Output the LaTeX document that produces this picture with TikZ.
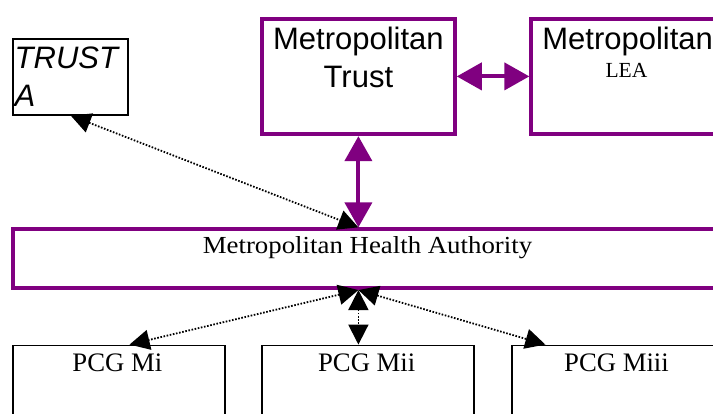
\documentclass[tikz,border=0pt]{standalone}
\usepackage{fontspec}
\setmainfont{Liberation Serif}
\setsansfont{Liberation Sans}
\usetikzlibrary{arrows.meta,calc}
\definecolor{mpurple}{RGB}{128,0,128}
\begin{document}
\begin{tikzpicture}[x=1pt,y=-1pt,
  pbox/.style={draw=mpurple, line width=4pt, rectangle, inner sep=0pt},
  bbox/.style={draw=black, line width=1.9pt, rectangle, inner sep=0pt},
  sanstext/.style={font=\sffamily\fontsize{31}{37}\selectfont, inner sep=0pt, anchor=base},
  itext/.style={font=\sffamily\itshape\fontsize{31}{37}\selectfont, inner sep=0pt, anchor=base west},
  serifsmall/.style={font=\rmfamily\fontsize{21.5}{25}\selectfont, inner sep=0pt, anchor=base},
  pcgtext/.style={font=\rmfamily\fontsize{26.7}{30}\selectfont, inner sep=0pt, anchor=base},
  parrow/.style={draw=mpurple, line width=4pt, {Triangle[length=25pt,width=27pt]}-{Triangle[length=25pt,width=27pt]}},
  darrow/.style={draw=black, line width=1.8pt, dash pattern=on 1.6pt off 1.6pt, {Triangle[length=20pt,width=20pt]}-{Triangle[length=20pt,width=20pt]}}
]
\useasboundingbox (0,0) rectangle (713,414);
\clip (0,0) rectangle (713,414);
\fill[white] (0,0) rectangle (713,414);

% boxes
\node[pbox, minimum width=192.7pt, minimum height=115.5pt] (trust) at (358.4,76.4) {};
\node[pbox, minimum width=192.7pt, minimum height=115.5pt] (lea) at (627.7,76.4) {};
\node[pbox, minimum width=711pt, minimum height=58.7pt] (mha) at (368.5,258.7) {};
\node[bbox, minimum width=115pt, minimum height=76pt] (trusta) at (70.8,76.7) {};
\node[bbox, minimum width=211.5pt, minimum height=134.5pt] (pcg1) at (118.9,412.75) {};
\node[bbox, minimum width=211.5pt, minimum height=134.5pt] (pcg2) at (368,412.75) {};
\node[bbox, minimum width=211.5pt, minimum height=134.5pt] (pcg3) at (617.9,412.75) {};

% texts
\node[sanstext] (tm1) at (358.4,50) {Metropolitan};
\node[sanstext] (tm2) at (358.4,87.3) {Trust};
\node[sanstext] (lm1) at (627.7,50) {Metropolitan};
\node[serifsmall] (lm2) at (626.5,77.3) {LEA};
\node[itext] (ta1) at (14.5,69) {TRUST};
\node[itext] (ta2) at (14.5,106.3) {A};
\node[font=\rmfamily\fontsize{24.5}{28}\selectfont, inner sep=0pt, anchor=base, xscale=1.095] (mhat) at (367.5,253.7) {Metropolitan Health Authority};
\node[pcgtext] (p1) at (117.3,371.7) {PCG Mi};
\node[pcgtext] (p2) at (366.7,371.7) {PCG Mii};
\node[pcgtext] (p3) at (616.5,371.7) {PCG Miii};

% connectors
\draw[parrow] (trust.east) -- (lea.west);
\draw[parrow] (trust.south) -- (mha.north -| trust.south);
\draw[darrow] (trusta.south) -- (mha.north -| trust.south);
\draw[darrow] (mha.south -| trust.south) -- ($(pcg1.north west)!0.55!(pcg1.north east)$);
\draw[darrow] (mha.south -| trust.south) -- (pcg2.north -| trust.south);
\draw[darrow] (mha.south -| trust.south) -- ($(pcg3.north west)!0.16!(pcg3.north east)$);
\end{tikzpicture}
\end{document}
